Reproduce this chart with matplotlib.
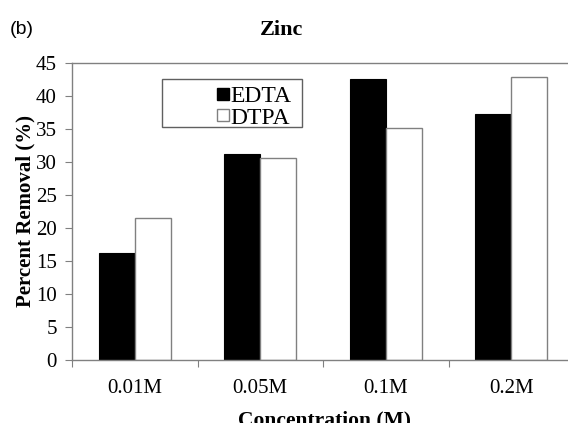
import numpy as np
import matplotlib
matplotlib.use("Agg")
import matplotlib.pyplot as plt
from matplotlib.lines import Line2D
from matplotlib.patches import Rectangle

# Zinc removal by chelating agent and concentration
concentrations = ["0.01M", "0.05M", "0.1M", "0.2M"]
edta_removal = [16.2, 31.2, 42.5, 37.2]
dtpa_removal = [21.5, 30.6, 35.1, 42.9]

plt.rcParams["font.family"] = ["Liberation Serif", "DejaVu Serif"]

W, H = 568, 423
fig = plt.figure(figsize=(W / 100, H / 100), dpi=100)
frame_col = "#808080"

# axes run slightly past the right edge of the figure
ax = fig.add_axes([72 / W, 1 - 360 / H, 502 / W, 297 / H])

x = np.arange(len(concentrations)) + 0.5
bw = 0.287
ax.bar(x - bw / 2, edta_removal, bw, color="black", edgecolor="black", linewidth=0.8)
ax.bar(x + bw / 2, dtpa_removal, bw, color="white", edgecolor=frame_col, linewidth=1.0)

ax.set_xlim(0, len(concentrations))
ax.set_ylim(0, 45)
ax.set_yticks(np.arange(0, 46, 5))

# category boundaries carry the tick marks, names sit between them
ax.set_xticks(np.arange(len(concentrations) + 1))
ax.set_xticklabels([])
ax.set_xticks(x, minor=True)
ax.set_xticklabels(concentrations, minor=True)
ax.tick_params(axis="x", which="major", length=5, color=frame_col, direction="out")
ax.tick_params(axis="x", which="minor", length=0, pad=14, labelsize=15)
ax.tick_params(axis="y", length=5, color=frame_col, pad=6, labelsize=15)

for s in ax.spines.values():
    s.set_color(frame_col)
    s.set_linewidth(1.0)

fig.text(25 / W, 1 - 211 / H, "Percent Removal (%)", rotation=90,
         ha="center", va="center", fontsize=15, fontweight="bold")
fig.text(324 / W, 1 - 420 / H, "Concentration (M)", ha="center", va="center",
         fontsize=15.5, fontweight="bold")
fig.text(282 / W, 1 - 30 / H, "Zinc", ha="center", va="center",
         fontsize=16, fontweight="bold")
fig.text(10 / W, 1 - 30 / H, "(b)", ha="left", va="center", fontsize=14,
         family=["Liberation Sans", "DejaVu Sans"])

# legend box
fig.patches.append(Rectangle((162 / W, 1 - 127 / H), 140 / W, 48 / H,
                             transform=fig.transFigure, fill=False,
                             edgecolor="#606060", linewidth=1.0))
handles = [
    Line2D([], [], linestyle="none", marker="s", markersize=9,
           markerfacecolor="black", markeredgecolor="black"),
    Line2D([], [], linestyle="none", marker="s", markersize=9,
           markerfacecolor="white", markeredgecolor=frame_col),
]
fig.legend(handles, ["EDTA", "DTPA"], loc="upper left",
           bbox_to_anchor=(201 / W, 1 - 69 / H), frameon=False, fontsize=17,
           handlelength=0.5, handletextpad=0.05, labelspacing=0.0,
           borderpad=0.2)

fig.savefig("out.png", dpi=100)
